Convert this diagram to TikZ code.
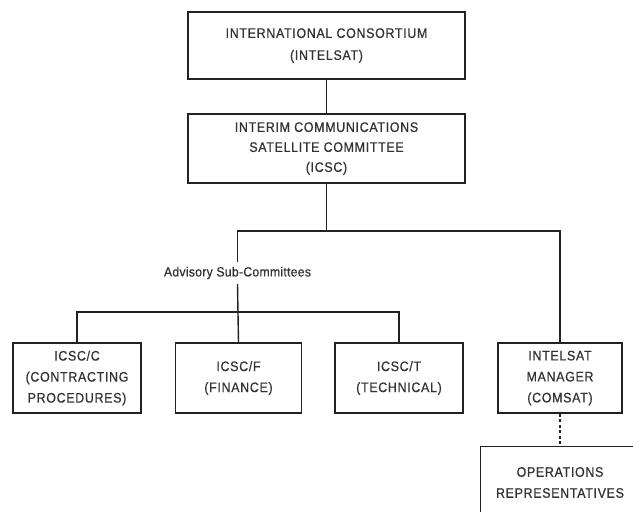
\documentclass[tikz,border=0pt]{standalone}
\usepackage{fontspec}
\setmainfont{Liberation Sans}
\newfontfamily\orgfont{Liberation Sans}[FakeStretch=0.9, LetterSpace=5, FakeBold=0.6]
\newfontfamily\advfont{Liberation Sans}[FakeStretch=0.92, LetterSpace=2, FakeBold=0.5]
\definecolor{ink}{HTML}{222222}
\definecolor{txt}{HTML}{333333}
\tikzset{
  orgbox/.style={draw=ink, line width=1.4pt, align=center, inner sep=0pt,
    text=txt, font=\orgfont\fontsize{13.8}{21}\selectfont},
  conn/.style={draw=ink, line width=1.4pt},
  advlabel/.style={inner sep=0pt, minimum height=22pt, text=txt,
    font=\advfont\fontsize{13.3}{15}\selectfont}
}
\begin{document}
\begin{tikzpicture}[x=1pt,y=-1pt]
\useasboundingbox (0,0) rectangle (633,512);
\clip (0,0) rectangle (633,512);
\fill[white] (0,0) rectangle (633,512);

\node[orgbox, minimum width=277pt, minimum height=67pt,
  font=\orgfont\fontsize{13.8}{22}\selectfont] (intl) at (326.5,45.5)
  {INTERNATIONAL CONSORTIUM\\(INTELSAT)};
\node[orgbox, minimum width=277pt, minimum height=69pt,
  font=\orgfont\fontsize{13.8}{20}\selectfont] (icsc) at (326.5,148.5)
  {INTERIM COMMUNICATIONS\\SATELLITE COMMITTEE\\(ICSC)};

\node[advlabel] (adv) at (237.5,273) {Advisory Sub-Committees};

\node[orgbox, minimum width=128pt, minimum height=70pt] (icscc) at (77,378)
  {ICSC/C\\(CONTRACTING\\PROCEDURES)};
\node[orgbox, minimum width=126pt, minimum height=70pt] (icscf) at (238.5,378)
  {ICSC/F\\(FINANCE)};
\node[orgbox, minimum width=128pt, minimum height=70pt] (icsct) at (399,378)
  {ICSC/T\\(TECHNICAL)};
\node[orgbox, minimum width=124pt, minimum height=70pt] (mgr) at (560,378)
  {INTELSAT\\MANAGER\\(COMSAT)};
\node[orgbox, draw=none, minimum width=158pt, minimum height=71pt] (ops) at (560,482.5)
  {OPERATIONS\\REPRESENTATIVES};
\draw[conn] (ops.north west) rectangle ++(200pt,-90pt);

\coordinate (bus) at (326.5,231);
\coordinate (bus2) at (237.5,312);

\draw[conn] (intl.south) -- (icsc.north);
\draw[conn] (icsc.south) -- (bus);
\draw[conn] (adv.north) |- (bus) -| (mgr.north);
\draw[conn] (adv.south) -- (icscf.north);
\draw[conn] (icscc.north) |- (bus2) -| (icsct.north);
\draw[conn, dash pattern=on 3pt off 2.5pt] (mgr.south) -- (ops.north);
\end{tikzpicture}
\end{document}
